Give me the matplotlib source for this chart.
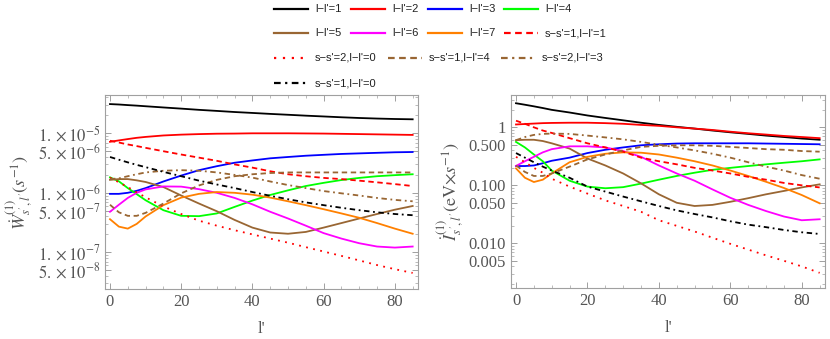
import matplotlib
matplotlib.use("Agg")
import matplotlib.pyplot as plt
from matplotlib.lines import Line2D
from matplotlib.ticker import FixedLocator, NullFormatter, FixedFormatter, MultipleLocator
import numpy as np

plt.rcParams['mathtext.fontset'] = 'stix'
plt.rcParams['font.family'] = ['Liberation Serif', 'DejaVu Serif']

x = [0, 2.5, 5, 7.5, 10, 15, 20, 25, 30, 35, 40, 45, 50, 55, 60, 65, 70, 75, 80, 85]

# Left panel: W (s^-1)
W_l1 = [3.1e-5, 3.05e-5, 2.98e-5, 2.92e-5, 2.85e-5, 2.72e-5, 2.6e-5, 2.48e-5, 2.38e-5, 2.28e-5,
        2.2e-5, 2.12e-5, 2.05e-5, 1.98e-5, 1.92e-5, 1.86e-5, 1.81e-5, 1.77e-5, 1.74e-5, 1.72e-5]
W_l2 = [7.2e-6, 7.6e-6, 8.0e-6, 8.4e-6, 8.7e-6, 9.2e-6, 9.5e-6, 9.7e-6, 9.85e-6, 9.9e-6,
        1.0e-5, 1.0e-5, 1.0e-5, 9.95e-6, 9.9e-6, 9.8e-6, 9.7e-6, 9.6e-6, 9.5e-6, 9.4e-6]
W_l3 = [9.6e-7, 9.6e-7, 1.0e-6, 1.08e-6, 1.2e-6, 1.55e-6, 1.95e-6, 2.4e-6, 2.8e-6, 3.2e-6,
        3.5e-6, 3.8e-6, 4.0e-6, 4.2e-6, 4.35e-6, 4.5e-6, 4.6e-6, 4.7e-6, 4.8e-6, 4.85e-6]
W_l4 = [1.82e-6, 1.56e-6, 1.2e-6, 9.5e-7, 7.5e-7, 5.1e-7, 4.1e-7, 4.05e-7, 4.5e-7, 5.8e-7,
        7.4e-7, 9.2e-7, 1.1e-6, 1.3e-6, 1.47e-6, 1.64e-6, 1.78e-6, 1.9e-6, 1.98e-6, 2.05e-6]
W_l5 = [1.65e-6, 1.7e-6, 1.7e-6, 1.62e-6, 1.52e-6, 1.25e-6, 9.0e-7, 6.6e-7, 4.9e-7, 3.5e-7,
        2.6e-7, 2.15e-7, 2.05e-7, 2.2e-7, 2.6e-7, 3.1e-7, 3.7e-7, 4.4e-7, 5.2e-7, 6.0e-7]
W_l6 = [4.8e-7, 6.3e-7, 8.2e-7, 1.0e-6, 1.14e-6, 1.28e-6, 1.27e-6, 1.15e-6, 1.0e-6, 8.2e-7,
        6.4e-7, 4.8e-7, 3.7e-7, 2.8e-7, 2.1e-7, 1.7e-7, 1.42e-7, 1.25e-7, 1.2e-7, 1.25e-7]
W_l7 = [3.6e-7, 2.7e-7, 2.5e-7, 3.0e-7, 4.0e-7, 6.2e-7, 8.3e-7, 9.6e-7, 1.03e-6, 1.0e-6,
        9.3e-7, 8.3e-7, 7.2e-7, 6.2e-7, 5.3e-7, 4.5e-7, 3.8e-7, 3.1e-7, 2.5e-7, 2.05e-7]
W_s1l1 = [7.5e-6, 7.0e-6, 6.5e-6, 6.1e-6, 5.7e-6, 5.0e-6, 4.4e-6, 3.9e-6, 3.45e-6, 3.0e-6,
          2.65e-6, 2.3e-6, 2.05e-6, 1.9e-6, 1.78e-6, 1.7e-6, 1.6e-6, 1.5e-6, 1.4e-6, 1.3e-6]
W_s2l0 = [1.8e-6, 1.5e-6, 1.25e-6, 1.02e-6, 8.4e-7, 5.9e-7, 4.4e-7, 3.4e-7, 2.8e-7, 2.35e-7,
          2.0e-7, 1.7e-7, 1.45e-7, 1.22e-7, 1.03e-7, 8.7e-8, 7.3e-8, 6.1e-8, 5.2e-8, 4.5e-8]
W_s1l4 = [6.3e-7, 4.7e-7, 4.1e-7, 4.1e-7, 4.6e-7, 6.6e-7, 9.8e-7, 1.33e-6, 1.65e-6, 1.9e-6,
          2.05e-6, 2.15e-6, 2.2e-6, 2.2e-6, 2.2e-6, 2.2e-6, 2.2e-6, 2.2e-6, 2.2e-6, 2.2e-6]
W_s2l3 = [1.7e-6, 1.75e-6, 1.9e-6, 2.05e-6, 2.2e-6, 2.35e-6, 2.4e-6, 2.35e-6, 2.2e-6, 2.0e-6,
          1.8e-6, 1.55e-6, 1.35e-6, 1.2e-6, 1.07e-6, 9.8e-7, 9.0e-7, 8.2e-7, 7.6e-7, 7.2e-7]
W_s1l0 = [4.0e-6, 3.6e-6, 3.25e-6, 2.95e-6, 2.7e-6, 2.25e-6, 1.9e-6, 1.6e-6, 1.38e-6, 1.2e-6,
          1.03e-6, 8.9e-7, 7.8e-7, 6.9e-7, 6.2e-7, 5.6e-7, 5.1e-7, 4.7e-7, 4.4e-7, 4.2e-7]

# Right panel: I (eV x s^-1)
I_l1 = [2.6, 2.45, 2.3, 2.15, 2.0, 1.8, 1.6, 1.45, 1.32, 1.2,
        1.1, 1.02, 0.95, 0.88, 0.82, 0.77, 0.72, 0.68, 0.64, 0.61]
I_l2 = [1.12, 1.14, 1.16, 1.18, 1.19, 1.2, 1.2, 1.18, 1.15, 1.1,
        1.06, 1.0, 0.95, 0.9, 0.84, 0.79, 0.75, 0.71, 0.68, 0.65]
I_l3 = [0.215, 0.215, 0.22, 0.24, 0.265, 0.3, 0.36, 0.41, 0.45, 0.49,
        0.51, 0.525, 0.53, 0.53, 0.53, 0.53, 0.525, 0.52, 0.515, 0.51]
I_l4 = [0.56, 0.45, 0.34, 0.26, 0.18, 0.12, 0.095, 0.089, 0.093, 0.107,
        0.125, 0.145, 0.165, 0.185, 0.2, 0.215, 0.23, 0.245, 0.26, 0.28]
I_l5 = [0.6, 0.61, 0.61, 0.58, 0.53, 0.43, 0.29, 0.22, 0.16, 0.108,
        0.07, 0.05, 0.044, 0.046, 0.052, 0.06, 0.07, 0.08, 0.092, 0.104]
I_l6 = [0.216, 0.26, 0.31, 0.37, 0.42, 0.47, 0.47, 0.45, 0.39, 0.31,
        0.22, 0.16, 0.12, 0.085, 0.061, 0.046, 0.036, 0.029, 0.025, 0.026]
I_l7 = [0.196, 0.135, 0.114, 0.125, 0.16, 0.25, 0.31, 0.35, 0.37, 0.365,
        0.34, 0.3, 0.26, 0.22, 0.18, 0.145, 0.115, 0.09, 0.068, 0.049]
I_s1l1 = [1.3, 1.15, 1.0, 0.88, 0.8, 0.65, 0.53, 0.45, 0.38, 0.3,
          0.26, 0.23, 0.2, 0.18, 0.16, 0.14, 0.125, 0.11, 0.1, 0.092]
I_s2l0 = [0.31, 0.25, 0.2, 0.165, 0.13, 0.095, 0.072, 0.055, 0.044, 0.035,
          0.025, 0.02, 0.016, 0.0125, 0.0098, 0.0078, 0.0062, 0.005, 0.004, 0.0031]
I_s1l4 = [0.22, 0.17, 0.145, 0.145, 0.16, 0.21, 0.28, 0.34, 0.4, 0.46,
          0.48, 0.49, 0.49, 0.48, 0.46, 0.44, 0.42, 0.41, 0.39, 0.38]
I_s2l3 = [0.6, 0.68, 0.74, 0.77, 0.78, 0.77, 0.72, 0.67, 0.62, 0.56,
          0.5, 0.45, 0.4, 0.35, 0.3, 0.25, 0.21, 0.18, 0.15, 0.13]
I_s1l0 = [0.36, 0.3, 0.25, 0.21, 0.18, 0.135, 0.095, 0.078, 0.064, 0.053,
          0.044, 0.037, 0.032, 0.028, 0.024, 0.021, 0.019, 0.017, 0.0155, 0.0145]

labels = ["l\u2212l'=1", "l\u2212l'=2", "l\u2212l'=3", "l\u2212l'=4",
          "l\u2212l'=5", "l\u2212l'=6", "l\u2212l'=7", "s\u2212s'=1,l\u2212l'=1",
          "s\u2212s'=2,l\u2212l'=0", "s\u2212s'=1,l\u2212l'=4", "s\u2212s'=2,l\u2212l'=3",
          "s\u2212s'=1,l\u2212l'=0"]

brown = (0.6, 0.4, 0.2)
orange = (1.0, 0.5, 0.0)
colors = ['black', 'red', 'blue', (0, 1, 0), brown, 'magenta', orange,
          'red', 'red', brown, brown, 'black']
dashed = (0, (3, 2))
dotted = (0, (1, 3))
dashdot = (0, (3, 2, 1, 2))
styles = ['-'] * 7 + [dashed, dotted, dashed, dashdot, dashdot]

W_series = [W_l1, W_l2, W_l3, W_l4, W_l5, W_l6, W_l7, W_s1l1, W_s2l0, W_s1l4, W_s2l3, W_s1l0]
I_series = [I_l1, I_l2, I_l3, I_l4, I_l5, I_l6, I_l7, I_s1l1, I_s2l0, I_s1l4, I_s2l3, I_s1l0]

W = 830; H = 339
fig = plt.figure(figsize=(8.3, 3.39), dpi=100)

def px_axes(l, t, r, b):
    return fig.add_axes([l / W, 1 - b / H, (r - l) / W, (b - t) / H])

ax1 = px_axes(105, 95, 418, 289)
ax2 = px_axes(511, 95, 825, 288)

lw = 1.3
gray = '#a0a0a0'
tcol = '#555555'
for ax, series in ((ax1, W_series), (ax2, I_series)):
    for ys, c, ls in zip(series, colors, styles):
        ax.plot(x, ys, color=c, linestyle=ls, linewidth=lw)
    ax.set_yscale('log')
    ax.set_xlim(-1.4, 86.5)
    for sp in ax.spines.values():
        sp.set_color(gray)
        sp.set_linewidth(0.8)
    ax.xaxis.set_major_locator(MultipleLocator(20))
    ax.xaxis.set_minor_locator(MultipleLocator(5))
    ax.tick_params(which='both', direction='in', colors=gray, labelcolor=tcol,
                   top=True, right=True, labelsize=12)
    ax.tick_params(which='major', length=4, width=0.7)
    ax.tick_params(which='minor', length=2, width=0.5)
    ax.set_xlabel("l'", fontsize=12, color=tcol, labelpad=8)

ax1.set_ylim(10 ** -7.617, 10 ** -4.356)
ax2.set_ylim(10 ** -2.77, 10 ** 0.557)

def minor_logs(lo, hi, majors):
    vals = []
    for d in range(lo, hi + 1):
        for m in range(1, 10):
            v = m * 10.0 ** d
            if not any(abs(v - mj) / mj < 1e-6 for mj in majors):
                vals.append(v)
    return vals

W_ticks = [1e-5, 5e-6, 1e-6, 5e-7, 1e-7, 5e-8]
W_ticklabels = [r"$1.\times10^{-5}$", r"$5.\times10^{-6}$", r"$1.\times10^{-6}$",
                r"$5.\times10^{-7}$", r"$1.\times10^{-7}$", r"$5.\times10^{-8}$"]
ax1.yaxis.set_major_locator(FixedLocator(W_ticks))
ax1.yaxis.set_major_formatter(FixedFormatter(W_ticklabels))
ax1.yaxis.set_minor_locator(FixedLocator(minor_logs(-8, -5, W_ticks)))
ax1.yaxis.set_minor_formatter(NullFormatter())

I_ticks = [1, 0.5, 0.1, 0.05, 0.01, 0.005]
I_ticklabels = ["1", "0.500", "0.100", "0.050", "0.010", "0.005"]
ax2.yaxis.set_major_locator(FixedLocator(I_ticks))
ax2.yaxis.set_major_formatter(FixedFormatter(I_ticklabels))
ax2.yaxis.set_minor_locator(FixedLocator(minor_logs(-3, 0, I_ticks)))
ax2.yaxis.set_minor_formatter(NullFormatter())

ax1.set_ylabel(r"$\dot{W}^{(1)}_{s',l'}(s^{-1})$", fontsize=13, color=tcol, labelpad=2)
ax2.set_ylabel(r"$\dot{I}^{(1)}_{s',l'}(\mathrm{eV}{\times}s^{-1})$", fontsize=13, color=tcol, labelpad=2)

# Legend drawn in figure pixel coordinates (Mathematica-style grid)
leg_pos = [
    (274, 9), (351, 9), (428, 9), (504, 9),
    (274, 33), (351, 33), (428, 33), (504, 33),
    (274, 58), (388, 58), (501, 58),
    (274, 83),
]
hlen = 34
for (lx, ly), lab, c, ls in zip(leg_pos, labels, colors, styles):
    yy = 1 - ly / H
    fig.add_artist(Line2D([lx / W, (lx + hlen) / W], [yy, yy], transform=fig.transFigure,
                          color=c, linestyle=ls, linewidth=lw + 0.3))
    fig.text((lx + hlen + 7) / W, yy, lab, fontsize=8, family=['Liberation Sans', 'DejaVu Sans'],
             color='#222222', va='center', ha='left')

fig.savefig("out.png", dpi=100)
